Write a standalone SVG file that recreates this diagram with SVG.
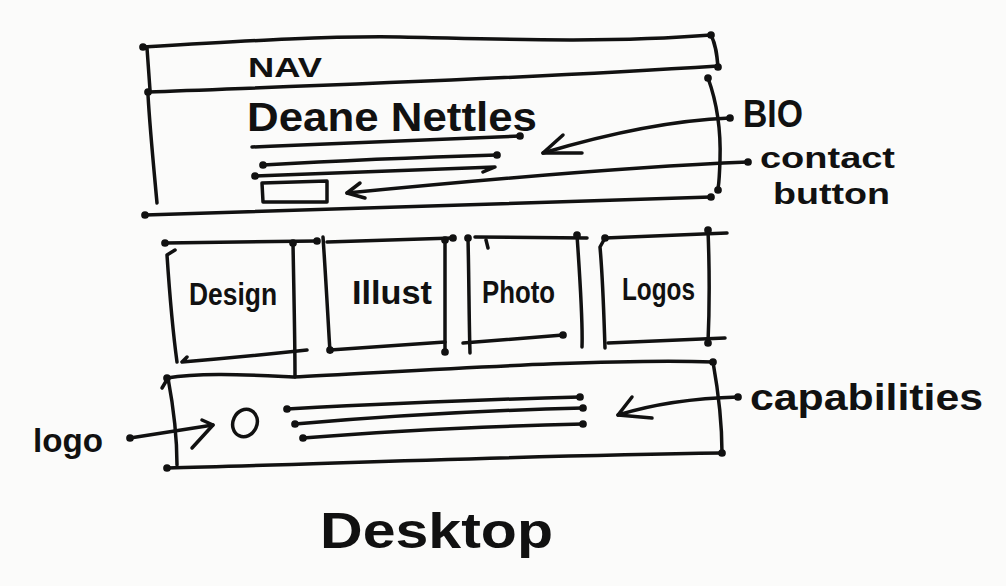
<svg xmlns="http://www.w3.org/2000/svg" width="1006" height="586" viewBox="0 0 1006 586">
<defs>
<style>
.ink{fill:none;stroke:#111;stroke-width:3.5;stroke-linecap:round;stroke-linejoin:round}
.dot{fill:#111}
.t{font-family:"Liberation Sans","DejaVu Sans",sans-serif;fill:#111;font-weight:bold}
</style>
<marker id="d" viewBox="0 0 8 8" refX="4" refY="4" markerWidth="2.2" markerHeight="2.2" markerUnits="strokeWidth"><circle cx="4" cy="4" r="4" class="dot"/></marker>
</defs>
<rect width="1006" height="586" fill="#fbfbfa"/>

<g id="nav">
<path class="ink" marker-start="url(#d)" marker-end="url(#d)" d="M143,47 C260,40 330,36 400,37 S600,44 711,35"/>
<path class="ink" d="M147,48 L150,90"/>
<path class="ink" marker-end="url(#d)" d="M711,35 C716,45 717,55 718,67"/>
<path class="ink" marker-start="url(#d)" d="M148,92 C300,86 500,80 718,66"/>
<text class="t" x="248" y="77" font-size="28" textLength="74" lengthAdjust="spacingAndGlyphs">NAV</text>
</g>

<g id="bio">
<path class="ink" d="M148,95 C150,130 154,170 157,203"/>
<path class="ink" marker-start="url(#d)" marker-end="url(#d)" d="M145,215 C300,210 500,203 711,197"/>
<path class="ink" marker-start="url(#d)" marker-end="url(#d)" d="M708,78 C716,100 721,130 720,160 S718,185 718,190"/>
<text class="t" x="247" y="131" font-size="40" textLength="290" lengthAdjust="spacingAndGlyphs">Deane Nettles</text>
<path class="ink" marker-end="url(#d)" d="M252,147 C350,143 450,139 520,136"/>
<path class="ink" marker-start="url(#d)" marker-end="url(#d)" d="M263,165 C350,160 430,157 497,155"/>
<path class="ink" marker-start="url(#d)" d="M255,176 C350,172 430,169 495,167 L483,172"/>
<path class="ink" d="M262,183 L327,181 L327,202 L263,202 Z"/>
</g>

<g id="tile-design">
<path class="ink" marker-start="url(#d)" marker-end="url(#d)" d="M165,243 L317,241"/>
<path class="ink" d="M175,250 L167,255 C170,300 174,340 177,362"/>
<path class="ink" marker-start="url(#d)" d="M293,243 C294,300 295,340 295,377"/>
<path class="ink" d="M187,357 L182,362 C230,358 270,354 307,350"/>
<text class="t" x="189" y="305" font-size="32" textLength="88" lengthAdjust="spacingAndGlyphs">Design</text>
</g>

<g id="tile-illust">
<path class="ink" d="M323,237 C326,280 328,320 330,352"/>
<path class="ink" marker-end="url(#d)" d="M327,242 L453,238"/>
<path class="ink" marker-start="url(#d)" marker-end="url(#d)" d="M445,240 L445,352"/>
<path class="ink" marker-start="url(#d)" d="M330,350 L445,342"/>
<text class="t" x="352" y="304" font-size="34" textLength="80" lengthAdjust="spacingAndGlyphs">Illust</text>
</g>

<g id="tile-photo">
<path class="ink" marker-start="url(#d)" d="M468,238 C469,280 469,320 470,353"/>
<path class="ink" d="M475,237 L587,238"/>
<path class="ink" d="M486,240 L488,248"/>
<path class="ink" marker-start="url(#d)" d="M577,235 C580,280 583,320 582,347"/>
<path class="ink" marker-end="url(#d)" d="M463,343 L563,335"/>
<text class="t" x="482" y="303" font-size="32" textLength="73" lengthAdjust="spacingAndGlyphs">Photo</text>
</g>

<g id="tile-logos">
<path class="ink" marker-start="url(#d)" d="M605,238 L600,247 C603,280 604,320 605,348"/>
<path class="ink" d="M605,238 L727,233"/>
<path class="ink" marker-start="url(#d)" marker-end="url(#d)" d="M708,230 C710,280 709,320 708,343"/>
<path class="ink" d="M608,343 L725,338"/>
<text class="t" x="622" y="300" font-size="32" textLength="73" lengthAdjust="spacingAndGlyphs">Logos</text>
</g>

<g id="footer">
<path class="ink" marker-start="url(#d)" marker-end="url(#d)" d="M167,378 C200,372 250,375 293,377 C400,372 600,358 713,362"/>
<path class="ink" d="M162,388 L168,378 C174,410 177,440 177,465"/>
<path class="ink" marker-start="url(#d)" marker-end="url(#d)" d="M167,468 C300,465 500,456 722,453"/>
<path class="ink" d="M713,362 C718,390 722,420 722,453"/>
<ellipse class="ink" cx="245" cy="423" rx="12" ry="14" transform="rotate(25 245 423)"/>
<path class="ink" marker-start="url(#d)" marker-end="url(#d)" d="M287,409 C400,403 500,399 580,397"/>
<path class="ink" marker-start="url(#d)" marker-end="url(#d)" d="M295,424 C400,415 500,410 583,408"/>
<path class="ink" marker-start="url(#d)" marker-end="url(#d)" d="M303,438 C400,430 500,426 583,424"/>
</g>

<g id="connectors">
<path class="ink" marker-start="url(#d)" d="M730,118 C680,120 620,130 543,153"/>
<path class="ink" d="M563,135 L543,153 L582,153"/>
<path class="ink" marker-start="url(#d)" d="M748,162 C650,166 500,178 347,193"/>
<path class="ink" d="M360,183 L347,193 L365,198"/>
<path class="ink" marker-start="url(#d)" d="M130,438 L213,425"/>
<path class="ink" d="M202,420 L213,425 L192,448"/>
<path class="ink" marker-start="url(#d)" d="M738,397 C700,398 660,402 618,415"/>
<path class="ink" d="M632,397 L618,415 L652,418"/>
</g>

<g id="labels">
<text class="t" x="743" y="127" font-size="38" textLength="60" lengthAdjust="spacingAndGlyphs">BIO</text>
<text class="t" x="760" y="168" font-size="30" textLength="135" lengthAdjust="spacingAndGlyphs">contact</text>
<text class="t" x="773" y="204" font-size="30" textLength="117" lengthAdjust="spacingAndGlyphs">button</text>
<text class="t" x="33" y="452" font-size="34" textLength="70" lengthAdjust="spacingAndGlyphs">logo</text>
<text class="t" x="750" y="410" font-size="36" textLength="233" lengthAdjust="spacingAndGlyphs">capabilities</text>
<text class="t" x="320" y="548" font-size="50" textLength="233" lengthAdjust="spacingAndGlyphs">Desktop</text>
</g>
</svg>
